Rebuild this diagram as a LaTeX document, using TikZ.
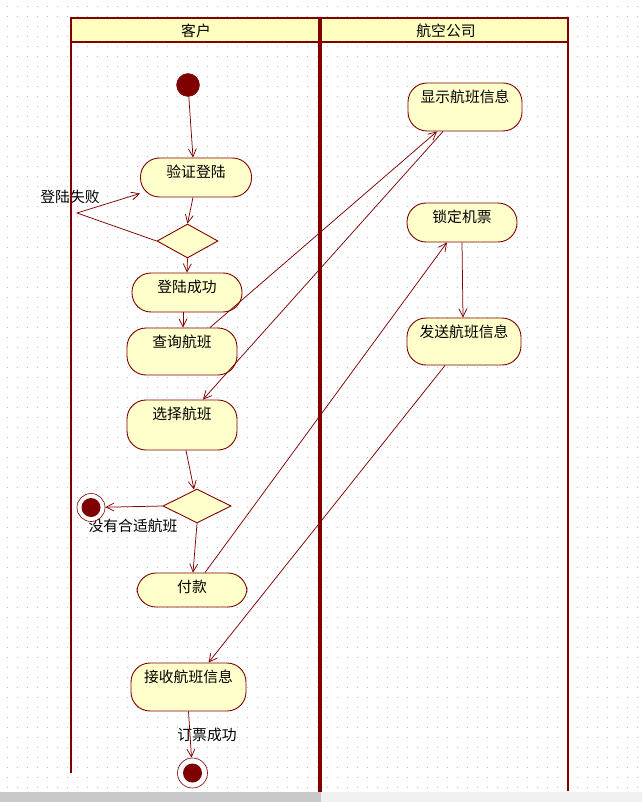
\documentclass[tikz,border=0pt]{standalone}
\usepackage{fontspec}
\setmainfont{Noto Sans CJK SC}
\usetikzlibrary{shapes.geometric, arrows.meta, calc}
\definecolor{dred}{HTML}{800000}
\definecolor{boxy}{HTML}{FFFFCC}
\definecolor{heady}{HTML}{FFFFC0}
\definecolor{dotc}{HTML}{BEBEBE}
\definecolor{barl}{HTML}{C8C8C8}
\definecolor{barr}{HTML}{F0F0F0}
\begin{document}
\begin{tikzpicture}[x=1pt, y=-1pt,
  txt/.style={font=\fontsize{14.8pt}{16pt}\selectfont, text=black, inner sep=0pt},
  act/.style={draw=dred, fill=boxy, line width=0.9pt, rounded corners=19pt, inner sep=0pt},
  acttxt/.style={txt, anchor=center, yshift=-14.5pt},
  dec/.style={diamond, draw=dred, fill=boxy, line width=0.9pt, inner sep=0pt},
  initnode/.style={circle, fill=dred, draw=dred, minimum size=23pt, inner sep=0pt},
  finnode/.style={circle, draw=dred, fill=white, line width=0.6pt, inner sep=0pt, minimum size=#1,
    path picture={\fill[dred] (path picture bounding box.center) circle (9.5pt);}},
  flow/.style={draw=dred, line width=0.75pt, -{Straight Barb[length=8pt, width=8pt, line width=0.75pt]}},
  lane/.style={draw=dred}
]
\useasboundingbox (0,0) rectangle (642,802);
\fill[white] (0,0) rectangle (642,802);
% dotted grid
\foreach \yy in {7,17,...,787}
  \draw[dotc, line width=1pt, dash pattern=on 1pt off 9pt] (6.5,\yy) -- (642,\yy);
% bottom bars
\fill[barl] (0,792) rectangle (321,802);
\fill[barr] (321,792) rectangle (642,802);

% free texts
\node[txt] (failtxt) at (70,197) {登陆失败};
\node[txt] (nofl) at (133,526) {没有合适航班};
\node[txt] (oktxt) at (207,735) {订票成功};

% swimlanes
\fill[heady] (71,18) rectangle (568,42);
\draw[lane, line width=2pt] (71,17) -- (71,773);
\draw[lane, line width=3.5pt] (320,17) -- (320,792);
\draw[lane, line width=2pt] (568,17) -- (568,791);
\draw[lane, line width=2.4pt] (70,18) -- (569,18);
\draw[lane, line width=1.8pt] (70,42) -- (569,42);
\node[txt] (hc) at (196,31) {客户};
\node[txt] (ha) at (446,31) {航空公司};

% nodes
\node[initnode] (start) at (188,85) {};
\node[act, minimum width=111pt, minimum height=39pt, label={[acttxt]north:验证登陆}] (ver) at (196,177.5) {};
\node[dec, minimum width=61pt, minimum height=34pt] (d1) at (187.5,241) {};
\node[act, minimum width=110pt, minimum height=39pt, label={[acttxt]north:登陆成功}] (lss) at (187,292.5) {};
\node[act, minimum width=110pt, minimum height=47pt, label={[acttxt]north:查询航班}] (qry) at (182,351.5) {};
\node[act, minimum width=110pt, minimum height=50pt, label={[acttxt]north:选择航班}] (sel) at (182,425) {};
\node[dec, minimum width=68pt, minimum height=34pt] (d2) at (197,506) {};
\node[finnode=28pt] (fin1) at (91,507.5) {};
\node[act, minimum width=110pt, minimum height=34pt, label={[acttxt]north:付款}] (pay) at (192,590) {};
\node[act, minimum width=115pt, minimum height=48pt, label={[acttxt]north:接收航班信息}] (recv) at (188.5,687) {};
\node[finnode=30pt] (fin2) at (192.5,773) {};
\node[act, minimum width=114pt, minimum height=48pt, label={[acttxt]north:显示航班信息}] (show) at (465,107) {};
\node[act, minimum width=110pt, minimum height=39pt, label={[acttxt]north:锁定机票}] (lock) at (462,222.5) {};
\node[act, minimum width=114pt, minimum height=47pt, label={[acttxt]north:发送航班信息}] (send) at (464,341.5) {};
\coordinate (failpt) at (77,213);

% connectors
\draw[flow] (start) -- ($(ver.north)+(-3,0)$);
\draw[flow] ($(ver.south)+(-3,0)$) -- (d1.north);
\draw[flow] (d1.west) -- (failpt) -- ($(ver.south west)+(0,-4)$);
\draw[flow] (d1.south) -- (lss.north);
\draw[flow] ($(lss.south)+(-4,0)$) -- ($(qry.north)+(1,0)$);
\draw[flow] ($(qry.north)+(28,0)$) -- ($(show.south)+(-28,0)$);
\draw[flow] ($(show.south)+(-22,0)$) -- ($(sel.north)+(21,0)$);
\draw[flow] ($(sel.south)+(4,0)$) -- ($(d2.north)+(-3,1)$);
\draw[flow] (d2.west) -- (fin1);
\draw[flow] (d2.south) -- ($(pay.north)+(1,0)$);
\draw[flow] ($(pay.north)+(13,0)$) -- ($(lock.south)+(-15,0)$);
\draw[flow] (lock.south) -- ($(send.north)+(-1,0)$);
\draw[flow] ($(send.south)+(-19,0)$) -- ($(recv.north)+(20,0)$);
\draw[flow] (recv.south) -- (fin2);
\end{tikzpicture}
\end{document}
